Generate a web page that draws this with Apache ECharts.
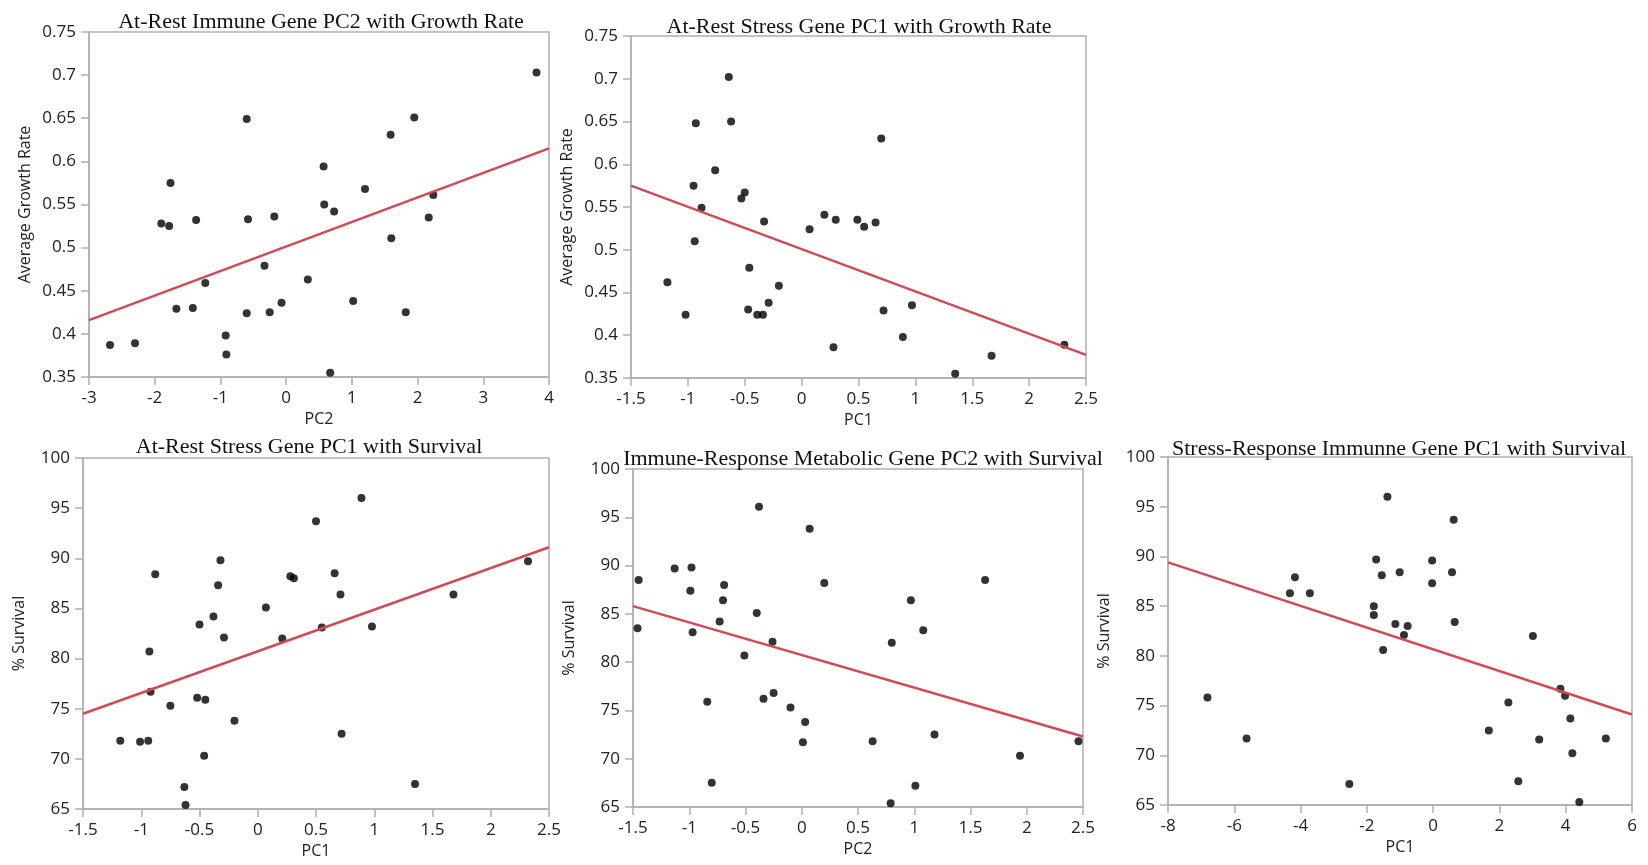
<!DOCTYPE html>
<html>
<head>
<meta charset="utf-8">
<script src="https://cdn.jsdelivr.net/npm/echarts@6/dist/echarts.min.js"></script>
<style>
  html, body { margin: 0; padding: 0; background: #fff; }
  #chart { width: 1648px; height: 865px; }
</style>
</head>
<body>
<div id="chart"></div>
<script>
// panel 1: at-rest immune PC2 vs growth rate
var immunePc2 = [-2.68, -2.30, -1.90, -1.78, -1.76, -1.67, -1.42, -1.37, -1.23, -0.92, -0.91, -0.60, -0.58, -0.60, -0.33, -0.25, -0.18, -0.07, 0.33, 0.57, 0.58, 0.67, 0.73, 1.02, 1.20, 1.59, 1.60, 1.82, 1.95, 2.17, 2.24, 3.81];
var immuneGrowth = [0.387, 0.389, 0.528, 0.525, 0.575, 0.429, 0.430, 0.532, 0.459, 0.398, 0.376, 0.649, 0.533, 0.424, 0.479, 0.425, 0.536, 0.436, 0.463, 0.594, 0.550, 0.355, 0.542, 0.438, 0.568, 0.631, 0.511, 0.425, 0.651, 0.535, 0.561, 0.703];
var fit1X = [-3, 4];
var fit1Y = [0.416, 0.615];

// panel 2: at-rest stress PC1 vs growth rate
var stressPc1 = [-1.18, -1.02, -0.95, -0.94, -0.93, -0.88, -0.76, -0.64, -0.62, -0.53, -0.50, -0.46, -0.47, -0.39, -0.34, -0.33, -0.29, -0.20, 0.07, 0.20, 0.30, 0.28, 0.49, 0.55, 0.65, 0.70, 0.72, 0.89, 0.97, 1.35, 1.67, 2.31];
var stressGrowth = [0.462, 0.424, 0.575, 0.510, 0.648, 0.549, 0.593, 0.702, 0.650, 0.560, 0.567, 0.479, 0.430, 0.424, 0.424, 0.533, 0.438, 0.458, 0.524, 0.541, 0.535, 0.386, 0.535, 0.527, 0.532, 0.630, 0.429, 0.398, 0.435, 0.355, 0.376, 0.389];
var fit2X = [-1.5, 2.5];
var fit2Y = [0.575, 0.377];

// panel 3: at-rest stress PC1 vs survival
var stressPc1b = [-1.18, -1.01, -0.94, -0.93, -0.92, -0.88, -0.75, -0.63, -0.62, -0.52, -0.50, -0.46, -0.45, -0.38, -0.34, -0.32, -0.29, -0.20, 0.07, 0.21, 0.28, 0.31, 0.50, 0.55, 0.66, 0.71, 0.72, 0.89, 0.98, 1.35, 1.68, 2.32];
var stressSurvival = [71.8, 71.7, 71.8, 80.7, 76.7, 88.4, 75.3, 67.2, 65.4, 76.1, 83.4, 70.3, 75.9, 84.2, 87.3, 89.8, 82.1, 73.8, 85.1, 82.0, 88.2, 88.0, 93.7, 83.1, 88.5, 86.4, 72.5, 96.0, 83.2, 67.5, 86.4, 89.7];
var fit3X = [-1.5, 2.5];
var fit3Y = [74.5, 91.1];

// panel 4: immune-response metabolic PC2 vs survival
var metabPc2 = [-1.45, -1.46, -1.13, -0.98, -0.99, -0.97, -0.84, -0.80, -0.73, -0.70, -0.69, -0.51, -0.40, -0.38, -0.34, -0.26, -0.25, -0.10, 0.01, 0.03, 0.07, 0.20, 0.63, 0.79, 0.80, 0.97, 1.01, 1.08, 1.18, 1.63, 1.94, 2.46];
var metabSurvival = [88.5, 83.5, 89.7, 89.8, 87.4, 83.1, 75.9, 67.5, 84.2, 86.4, 88.0, 80.7, 85.1, 96.1, 76.2, 82.1, 76.8, 75.3, 71.7, 73.8, 93.8, 88.2, 71.8, 65.4, 82.0, 86.4, 67.2, 83.3, 72.5, 88.5, 70.3, 71.8];
var fit4X = [-1.5, 2.5];
var fit4Y = [85.8, 72.3];

// panel 5: stress-response immune PC1 vs survival
var srImmunePc1 = [-6.81, -5.63, -4.32, -4.17, -3.72, -2.53, -1.79, -1.79, -1.72, -1.55, -1.51, -1.38, -1.14, -1.01, -0.88, -0.77, -0.03, -0.03, 0.57, 0.62, 0.65, 1.68, 2.27, 2.57, 3.01, 3.20, 3.84, 3.98, 4.14, 4.20, 4.41, 5.21];
var srSurvival = [75.8, 71.7, 86.3, 87.9, 86.3, 67.1, 85.0, 84.1, 89.7, 88.1, 80.6, 96.0, 83.2, 88.4, 82.1, 83.0, 89.6, 87.3, 88.4, 93.7, 83.4, 72.5, 75.3, 67.4, 82.0, 71.6, 76.7, 76.0, 73.7, 70.2, 65.3, 71.7];
var fit5X = [-8, 6];
var fit5Y = [89.4, 74.1];

var titles = [
  'At-Rest Immune Gene PC2 with Growth Rate',
  'At-Rest Stress Gene PC1 with Growth Rate',
  'At-Rest Stress Gene PC1 with Survival',
  'Immune-Response Metabolic Gene PC2 with Survival',
  'Stress-Response Immunne Gene PC1 with Survival'
];
var xNames = ['PC2', 'PC1', 'PC1', 'PC2', 'PC1'];
var yNames = ['Average Growth Rate', 'Average Growth Rate', '% Survival', '% Survival', '% Survival'];

var panels = [
  {x: immunePc2, y: immuneGrowth, fx: fit1X, fy: fit1Y, xmin: -3, xmax: 4, xint: 1, ymin: 0.35, ymax: 0.75, yint: 0.05,
   grid: {left: 89, top: 32, width: 460, height: 345}, tx: 316, ty: 6},
  {x: stressPc1, y: stressGrowth, fx: fit2X, fy: fit2Y, xmin: -1.5, xmax: 2.5, xint: 0.5, ymin: 0.35, ymax: 0.75, yint: 0.05,
   grid: {left: 631, top: 36, width: 455, height: 342}, tx: 854, ty: 11},
  {x: stressPc1b, y: stressSurvival, fx: fit3X, fy: fit3Y, xmin: -1.5, xmax: 2.5, xint: 0.5, ymin: 65, ymax: 100, yint: 5,
   grid: {left: 83, top: 458, width: 466, height: 351}, tx: 304, ty: 431},
  {x: metabPc2, y: metabSurvival, fx: fit4X, fy: fit4Y, xmin: -1.5, xmax: 2.5, xint: 0.5, ymin: 65, ymax: 100, yint: 5,
   grid: {left: 633, top: 469, width: 450, height: 338}, tx: 858, ty: 443},
  {x: srImmunePc1, y: srSurvival, fx: fit5X, fy: fit5Y, xmin: -8, xmax: 6, xint: 2, ymin: 65, ymax: 100, yint: 5,
   grid: {left: 1168, top: 457, width: 464, height: 348}, tx: 1394, ty: 433}
];

var frameColor = '#b0b0b0';
var labelFont = {color: '#222', fontSize: 17, fontFamily: 'Open Sans'};

var option = {
  backgroundColor: '#fff',
  animation: false,
  title: [], grid: [], xAxis: [], yAxis: [], series: []
};

panels.forEach(function (p, i) {
  option.title.push({
    text: titles[i], left: p.tx, top: p.ty, textAlign: 'center',
    textStyle: {fontFamily: 'Liberation Serif', fontSize: 22, fontWeight: 'normal', color: '#111'}
  });
  option.grid.push(Object.assign({show: true, borderColor: frameColor, borderWidth: 1.5}, p.grid));
  option.xAxis.push({
    type: 'value', gridIndex: i, min: p.xmin, max: p.xmax, interval: p.xint,
    name: xNames[i], nameLocation: 'middle', nameGap: 34,
    nameTextStyle: {color: '#222', fontSize: 16, fontFamily: 'Open Sans'},
    axisLine: {show: true, onZero: false, lineStyle: {color: frameColor, width: 1.5}},
    axisTick: {show: true, length: 8, lineStyle: {color: frameColor, width: 1.5}},
    axisLabel: Object.assign({margin: 13}, labelFont),
    splitLine: {show: false}
  });
  option.yAxis.push({
    type: 'value', gridIndex: i, min: p.ymin, max: p.ymax, interval: p.yint,
    name: yNames[i], nameLocation: 'middle', nameGap: 56,
    nameTextStyle: {color: '#222', fontSize: 16, fontFamily: 'Open Sans'},
    axisLine: {show: true, onZero: false, lineStyle: {color: frameColor, width: 1.5}},
    axisTick: {show: true, length: 8, lineStyle: {color: frameColor, width: 1.5}},
    axisLabel: Object.assign({margin: 13}, labelFont),
    splitLine: {show: false}
  });
  option.series.push({
    type: 'line', xAxisIndex: i, yAxisIndex: i,
    data: p.fx.map(function (v, k) { return [v, p.fy[k]]; }),
    symbol: 'none', silent: true,
    lineStyle: {color: '#d04a58', width: 2.5}
  });
  option.series.push({
    type: 'scatter', xAxisIndex: i, yAxisIndex: i,
    data: p.x.map(function (v, k) { return [v, p.y[k]]; }),
    symbolSize: 8, itemStyle: {color: '#000'}
  });
});

var chart = echarts.init(document.getElementById('chart'));
chart.setOption(option);
window.onresize = chart.resize;
</script>
</body>
</html>
